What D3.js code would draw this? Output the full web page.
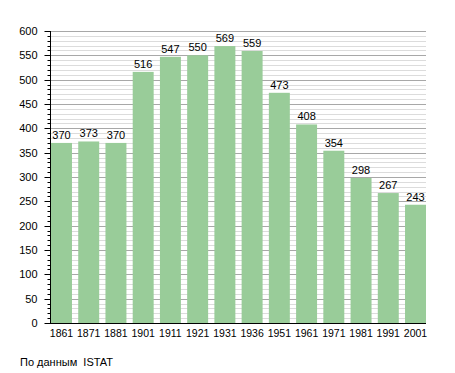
<!DOCTYPE html>
<html>
<head>
<meta charset="utf-8">
<script src="https://cdn.jsdelivr.net/npm/d3@7"></script>
<style>
  body { margin: 0; background: #fff; }
  text { font-family: "Liberation Sans", Arial, sans-serif; font-size: 11px; fill: #000; }
</style>
</head>
<body>
<script>
var width = 455,
    height = 373;

var years = ["1861","1871","1881","1901","1911","1921","1931","1936","1951","1961","1971","1981","1991","2001"];
var population = [370,373,370,516,547,550,569,559,473,408,354,298,267,243];
var yTicks = [0,50,100,150,200,250,300,350,400,450,500,550,600];
var minorTicks = d3.range(0, 601, 10);

var plotLeft = 50, plotRight = 426, plotTop = 31, plotBottom = 323;

var svg = d3.select("body").append("svg")
    .attr("width", width)
    .attr("height", height);

var x = d3.scaleBand()
    .domain(years)
    .range([plotLeft + 1, plotRight])
    .paddingInner(0.23)
    .paddingOuter(0);

var y = d3.scaleLinear()
    .domain([0, 600])
    .range([plotBottom, plotTop]);

// minor grid
svg.append("g").selectAll("line")
    .data(minorTicks.filter(function(d){ return d % 50 != 0; }))
    .enter().append("line")
    .attr("x1", plotLeft).attr("x2", plotRight)
    .attr("y1", function(d){ return Math.round(y(d)) + 0.5; })
    .attr("y2", function(d){ return Math.round(y(d)) + 0.5; })
    .attr("stroke", "#dcdcdc");

// major grid
svg.append("g").selectAll("line")
    .data(yTicks.filter(function(d){ return d > 0; }))
    .enter().append("line")
    .attr("x1", plotLeft).attr("x2", plotRight)
    .attr("y1", function(d){ return Math.round(y(d)) + 0.5; })
    .attr("y2", function(d){ return Math.round(y(d)) + 0.5; })
    .attr("stroke", "#a8a8a8");

// bars
svg.append("g").selectAll("rect")
    .data(population)
    .enter().append("rect")
    .attr("x", function(d,i){ return x(years[i]); })
    .attr("width", x.bandwidth())
    .attr("y", function(d){ return y(d); })
    .attr("height", function(d){ return plotBottom - y(d); })
    .attr("fill", "#99cc99");

// value labels
svg.append("g").selectAll("text")
    .data(population)
    .enter().append("text")
    .attr("x", function(d,i){ return x(years[i]) + x.bandwidth()/2; })
    .attr("y", function(d){ return y(d) - 4; })
    .attr("text-anchor", "middle")
    .text(function(d){ return d; });

// y axis
var yAxis = svg.append("g")
    .attr("transform", "translate(" + (plotLeft + 0.5) + ",0)");
yAxis.append("line")
    .attr("y1", plotTop).attr("y2", plotBottom)
    .attr("stroke", "#000");
yAxis.selectAll(".tick")
    .data(minorTicks)
    .enter().append("line")
    .attr("class", "tick")
    .attr("x1", function(d){ return d % 50 == 0 ? -6 : -3; })
    .attr("x2", 0)
    .attr("y1", function(d){ return Math.round(y(d)) + 0.5; })
    .attr("y2", function(d){ return Math.round(y(d)) + 0.5; })
    .attr("stroke", "#000");
yAxis.selectAll("text")
    .data(yTicks)
    .enter().append("text")
    .attr("x", -13)
    .attr("y", function(d){ return y(d) + 4; })
    .attr("text-anchor", "end")
    .text(function(d){ return d; });

// x axis
svg.append("line")
    .attr("x1", plotLeft).attr("x2", plotRight)
    .attr("y1", plotBottom + 0.5).attr("y2", plotBottom + 0.5)
    .attr("stroke", "#000");
svg.append("g").selectAll("text")
    .data(years)
    .enter().append("text")
    .attr("x", function(d){ return x(d) + x.bandwidth()/2; })
    .attr("y", plotBottom + 14)
    .attr("text-anchor", "middle")
    .style("font-size", "10.5px")
    .text(function(d){ return d; });

svg.append("text")
    .attr("x", 20)
    .attr("y", 366)
    .style("white-space", "pre")
    .text("По данным  ISTAT");
</script>
</body>
</html>
